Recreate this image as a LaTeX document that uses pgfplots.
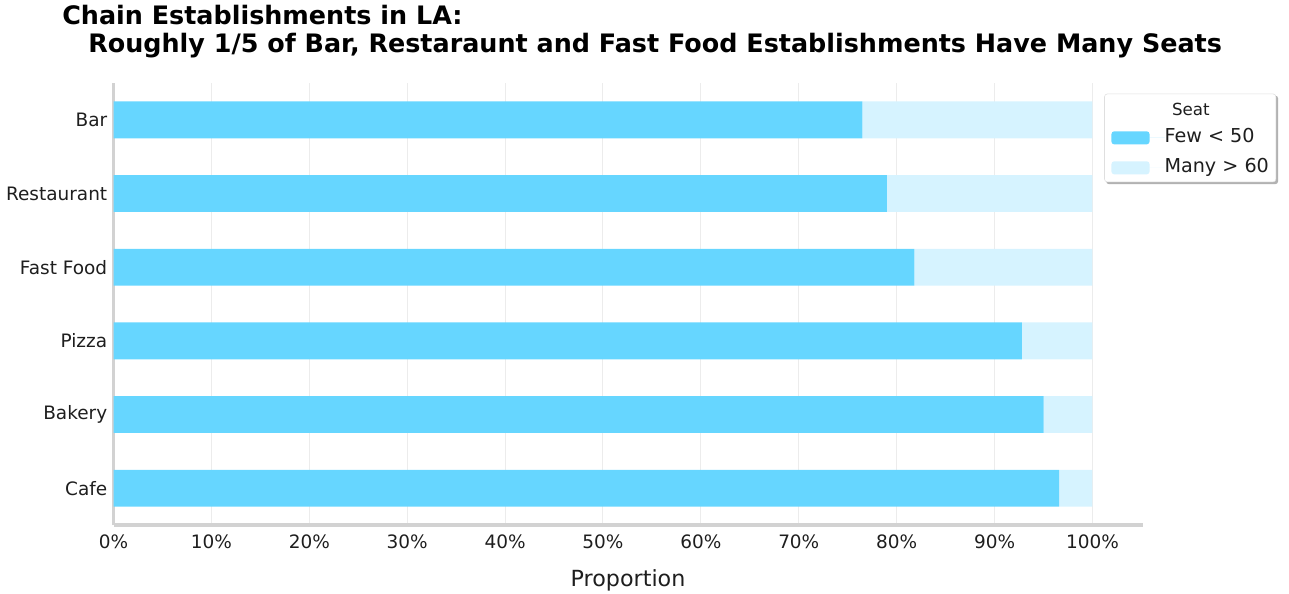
\documentclass[border=0pt]{standalone}
\usepackage{fontspec}
\setmainfont{DejaVu Sans}
\usepackage{pgfplots}
\pgfplotsset{compat=1.18}
\usetikzlibrary{backgrounds}
\definecolor{few}{RGB}{102,214,255}
\definecolor{many}{RGB}{214,243,255}
\definecolor{spine}{RGB}{210,210,210}
\definecolor{gridc}{RGB}{236,236,236}
\definecolor{txt}{RGB}{30,30,30}
\begin{document}
\begin{tikzpicture}[x=0.72pt,y=0.72pt]
\path (0,0) rectangle (1289,593);
\begin{axis}[
  at={(81.72pt,48.96pt)}, anchor=south west,
  scale only axis, width=741.5pt, height=318.2pt,
  xbar stacked, bar width=0.5,
  xmin=0, xmax=105.2, ymin=-0.5, ymax=5.5,
  axis lines=left,
  axis line style={draw=spine, line width=2.2pt, -},
  xtick={0,10,...,100},
  xticklabel={\pgfmathprintnumber{\tick}\%},
  ytick={0,1,2,3,4,5},
  yticklabels={Cafe,Bakery,Pizza,Fast Food,Restaurant,Bar},
  major tick style={draw=none},
  xmajorgrids, grid style={draw=gridc, line width=0.7pt},
  ticklabel style={font=\fontsize{13.3}{16}\selectfont, text=txt},
  /pgf/number format/assume math mode=true,
  xticklabel style={anchor=north, inner sep=0pt, yshift=-4.5pt},
  yticklabel style={anchor=east, inner sep=0pt, xshift=-2.2pt},
  legend style={at={(0.962,0.976)}, anchor=north west, name=leg,
    draw=gray!25, rounded corners=2pt, fill=white,
    font=\fontsize{13.8}{16}\selectfont, text=txt,
    inner xsep=5pt, inner ysep=3.65pt, row sep=8.6pt,
    nodes={inner sep=0pt, anchor=west, text height=10pt, text depth=3pt},
    cells={anchor=west}},
]
\addlegendimage{empty legend}
\addlegendentry[text height=12.2pt, text depth=0.65pt]{\hspace{5.5pt}\fontsize{12}{14}\selectfont Seat}
\addplot[fill=few, draw=none,
  legend image code/.code={\fill[few] (0pt,-4.7pt) rectangle (27.4pt,4.7pt); \path (27.4pt,0pt) -- (38.2pt,0pt);}]
  coordinates {(96.6,0) (95.0,1) (92.8,2) (81.8,3) (79.0,4) (76.5,5)};
\addlegendentry{Few < 50}
\addplot[fill=many, draw=none,
  legend image code/.code={\fill[many] (0pt,-4.7pt) rectangle (27.4pt,4.7pt); \path (27.4pt,0pt) -- (38.2pt,0pt);}]
  coordinates {(3.4,0) (5.0,1) (7.2,2) (18.2,3) (21.0,4) (23.5,5)};
\addlegendentry{Many > 60}
\end{axis}
\begin{pgfonlayer}{background}
\fill[black, opacity=0.3, rounded corners=2pt] ([xshift=1.4pt,yshift=-1.4pt]leg.south west) rectangle ([xshift=1.4pt,yshift=-1.4pt]leg.north east);
\end{pgfonlayer}
\node[anchor=base west, inner sep=0pt, font=\bfseries\fontsize{18.3}{22}\selectfont, text=black] at (62,568) {Chain Establishments in LA:};
\node[anchor=base west, inner sep=0pt, font=\bfseries\fontsize{18.3}{22}\selectfont, text=black] at (88,540.3) {Roughly 1/5 of Bar, Restaraunt and Fast Food Establishments Have Many Seats};
\node[anchor=base, inner sep=0pt, font=\fontsize{16}{19}\selectfont, text=txt] at (628,7) {Proportion};
\end{tikzpicture}
\end{document}
